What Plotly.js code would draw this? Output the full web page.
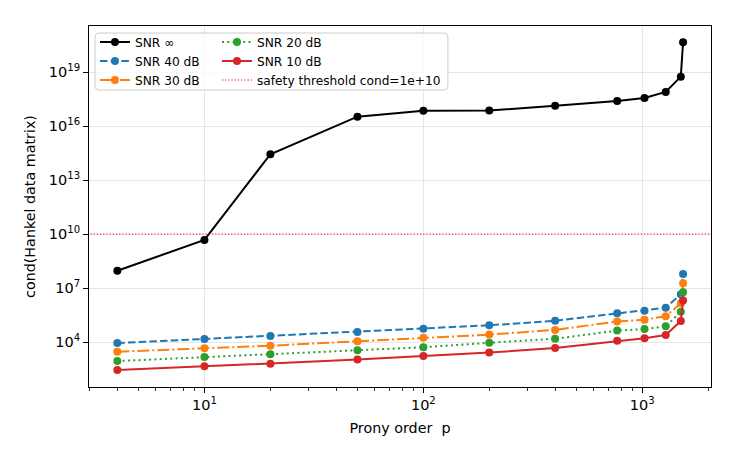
<!DOCTYPE html>
<html>
<head>
<meta charset="utf-8">
<script src="https://cdn.plot.ly/plotly-3.0.1.min.js"></script>
<style>
  html, body { margin: 0; padding: 0; background: #fff; }
  #chart { width: 737px; height: 460px; }
</style>
</head>
<body>
<div id="chart"></div>
<script>
// ---- data ----
var pOrder = [4, 10, 20, 50, 100, 200, 400, 768, 1024, 1280, 1500, 1536];

var condInf  = [9.1e7, 4.7e9, 2.7e14, 3.3e16, 7.1e16, 7.2e16, 1.35e17, 2.45e17, 3.6e17, 7.8e17, 5.5e18, 4.5e20];
var cond40dB = [8.7e3, 1.48e4, 2.14e4, 3.6e4, 5.5e4, 8.5e4, 1.51e5, 3.9e5, 5.5e5, 8.1e5, 4.5e6, 6.0e7];
var cond30dB = [2.9e3, 4.5e3, 6.2e3, 1.1e4, 1.74e4, 2.57e4, 4.7e4, 1.38e5, 1.74e5, 2.7e5, 1.41e6, 1.82e7];
var cond20dB = [8.7e2, 1.48e3, 2.1e3, 3.5e3, 5.1e3, 9.1e3, 1.51e4, 4.3e4, 5.2e4, 7.4e4, 4.8e5, 5.8e6];
var cond10dB = [2.75e2, 4.5e2, 6.2e2, 1.05e3, 1.66e3, 2.57e3, 4.7e3, 1.17e4, 1.62e4, 2.45e4, 1.48e5, 2.0e6];

var threshold = 1e10;

var seriesNames = ['SNR \u221e', 'SNR 40 dB', 'SNR 30 dB', 'SNR 20 dB', 'SNR 10 dB'];
var thresholdName = 'safety threshold cond=1e+10';

var xTickVals = [10, 100, 1000];
var xTickText = ['10<sup>1</sup>', '10<sup>2</sup>', '10<sup>3</sup>'];
var yTickVals = [1e4, 1e7, 1e10, 1e13, 1e16, 1e19];
var yTickText = ['10<sup>4</sup>', '10<sup>7</sup>', '10<sup>10</sup>', '10<sup>13</sup>', '10<sup>16</sup>', '10<sup>19</sup>'];

// minor tick positions on the log x axis (2..9 of each decade)
var xMinor = [];
[1, 10, 100, 1000].forEach(function (d) {
  for (var k = 2; k <= 9; k++) xMinor.push(k * d);
});

// ---- styling ----
var FONT = 'DejaVu Sans, Liberation Sans, sans-serif';
var LW = 2;
var MS = 8;

function series(y, name, color, dash, legend) {
  return {
    x: pOrder, y: y, name: name, type: 'scatter', mode: 'lines+markers',
    line: { color: color, width: LW, dash: dash },
    marker: { color: color, size: MS, symbol: 'circle' },
    legend: legend
  };
}

var traces = [
  series(condInf,  seriesNames[0], '#000000', 'solid', 'legend'),
  series(cond40dB, seriesNames[1], '#1f77b4', '7.5px,3.2px', 'legend'),
  series(cond30dB, seriesNames[2], '#ff7f0e', '12px,3px,2px,3px', 'legend'),
  series(cond20dB, seriesNames[3], '#2ca02c', '2px,3.3px', 'legend2'),
  series(cond10dB, seriesNames[4], '#d62728', 'solid', 'legend2'),
  {
    x: [pOrder[0] / 10, pOrder[pOrder.length - 1] * 10],
    y: [threshold, threshold],
    name: thresholdName, type: 'scatter', mode: 'lines',
    line: { color: '#ff0000', width: 1.2, dash: '1.2px,2px' },
    legend: 'legend2'
  }
];

// legend frame (matplotlib-like rounded box) in paper coordinates
var fx0 = 0.0096, fx1 = 0.577, fy0 = 0.8227, fy1 = 0.9806, rx = 0.0064, ry = 0.011;
var framePath = 'M' + (fx0 + rx) + ',' + fy0 +
  ' L' + (fx1 - rx) + ',' + fy0 + ' Q' + fx1 + ',' + fy0 + ' ' + fx1 + ',' + (fy0 + ry) +
  ' L' + fx1 + ',' + (fy1 - ry) + ' Q' + fx1 + ',' + fy1 + ' ' + (fx1 - rx) + ',' + fy1 +
  ' L' + (fx0 + rx) + ',' + fy1 + ' Q' + fx0 + ',' + fy1 + ' ' + fx0 + ',' + (fy1 - ry) +
  ' L' + fx0 + ',' + (fy0 + ry) + ' Q' + fx0 + ',' + fy0 + ' ' + (fx0 + rx) + ',' + fy0 + ' Z';

var legendCommon = {
  orientation: 'v', bgcolor: 'rgba(0,0,0,0)', borderwidth: 0,
  font: { family: FONT, size: 12.2, color: '#000' },
  xanchor: 'left', yanchor: 'top', traceorder: 'normal', itemwidth: 30
};

var layout = {
  width: 737, height: 460,
  margin: { l: 89, r: 26, t: 26, b: 73, autoexpand: false },
  paper_bgcolor: '#ffffff', plot_bgcolor: '#ffffff',
  font: { family: FONT, color: '#000' },
  showlegend: true,
  legend: Object.assign({}, legendCommon, { x: 0.0096, y: 0.9958 }),
  legend2: Object.assign({}, legendCommon, { x: 0.2058, y: 0.9958 }),
  xaxis: {
    type: 'log', range: [0.4726, 3.314], autorange: false,
    tickmode: 'array', tickvals: xTickVals, ticktext: xTickText,
    ticks: 'outside', ticklen: 5, tickwidth: 1, tickcolor: '#000',
    tickfont: { family: FONT, size: 14.5, color: '#000' },
    showline: true, linecolor: '#000', linewidth: 1, mirror: true,
    showgrid: true, gridcolor: '#e6e6e6', gridwidth: 1, zeroline: false,
    minor: { tickmode: 'array', tickvals: xMinor, ticks: 'outside', ticklen: 3, tickwidth: 0.8, tickcolor: '#000', showgrid: false },
    title: { text: 'Prony order\u00a0\u00a0p', font: { family: FONT, size: 14.3, color: '#000' }, standoff: 10 }
  },
  yaxis: {
    type: 'log', range: [1.5, 21.556], autorange: false,
    tickmode: 'array', tickvals: yTickVals, ticktext: yTickText,
    ticks: 'outside', ticklen: 5, tickwidth: 1, tickcolor: '#000',
    tickfont: { family: FONT, size: 14.5, color: '#000' },
    showline: true, linecolor: '#000', linewidth: 1, mirror: true,
    showgrid: true, gridcolor: '#e6e6e6', gridwidth: 1, zeroline: false,
    title: { text: 'cond(Hankel data matrix)', font: { family: FONT, size: 14.3, color: '#000' }, standoff: 9 }
  },
  shapes: [{
    type: 'path', xref: 'paper', yref: 'paper', path: framePath,
    line: { color: '#cccccc', width: 1 }, fillcolor: 'rgba(255,255,255,0.8)', layer: 'above'
  }]
};

Plotly.newPlot('chart', traces, layout, { displayModeBar: false, staticPlot: true });
</script>
</body>
</html>
